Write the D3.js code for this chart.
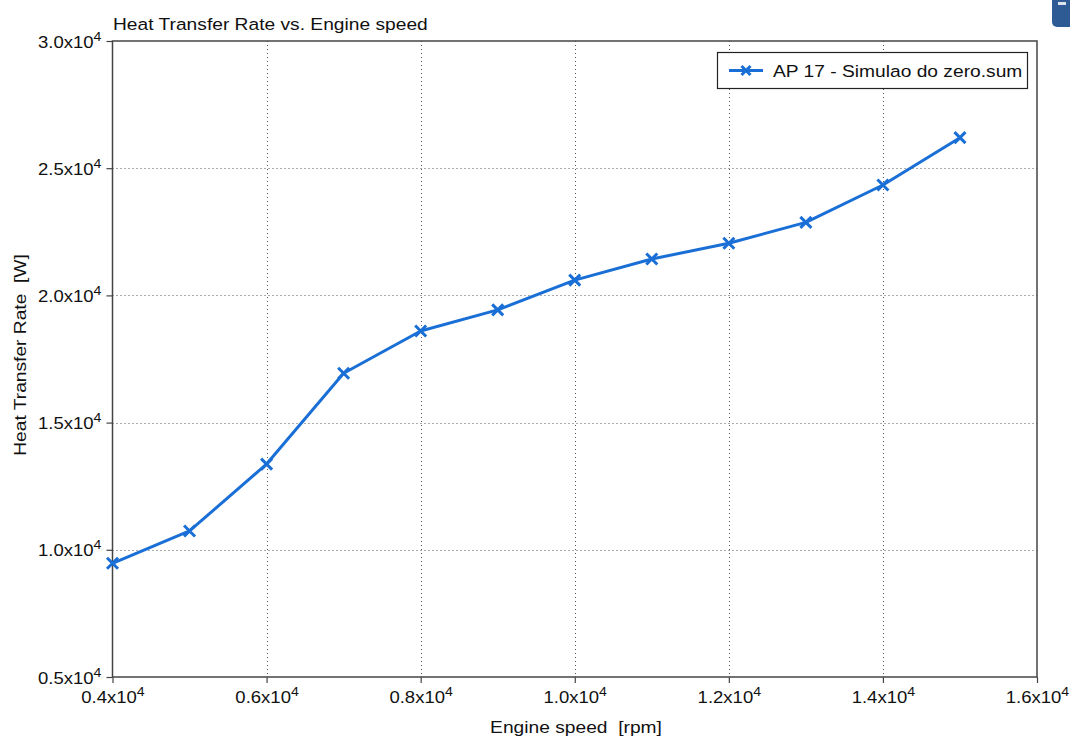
<!DOCTYPE html>
<html>
<head>
<meta charset="utf-8">
<script src="https://cdn.jsdelivr.net/npm/d3@7"></script>
<style>
  html, body { margin: 0; padding: 0; background: #fff; }
  svg { display: block; font-family: "Liberation Sans", Arial, Helvetica, sans-serif; }
</style>
</head>
<body>
<svg id="chart" width="1070" height="738"></svg>
<script>
// Engine speed [rpm] and heat transfer rate [W]
const engineSpeed = [4000, 5000, 6000, 7000, 8000, 9000, 10000, 11000, 12000, 13000, 14000, 15000];
const heatTransfer = [9470, 10740, 13370, 16940, 18600, 19430, 20600, 21430, 22050, 22870, 24340, 26200];
const seriesName = "AP 17 - Simulao do zero.sum";
const xTicks = [4000, 6000, 8000, 10000, 12000, 14000, 16000];
const yTicks = [5000, 10000, 15000, 20000, 25000, 30000];

const svg = d3.select("#chart");
const margin = { left: 112.5, right: 1037, top: 41, bottom: 677 };
const lineColor = "#1a6fd6";
const fontSize = 17;
const wide = 1.13;     // horizontal stretch of the label face
const tickWide = 1.09;

const x = d3.scaleLinear().domain([4000, 16000]).range([margin.left, margin.right]);
const y = d3.scaleLinear().domain([5000, 30000]).range([margin.bottom, margin.top]);

// label in the form "m.mx10^4"
function sciLabel(sel, v) {
  const m = (v / 1e4).toFixed(1);
  sel.text(null);
  sel.append("tspan").text(m + "x10");
  sel.append("tspan").attr("font-size", 13).attr("dy", -7).text("4");
}

// text placed at (px, py), optionally rotated, stretched along its run
function label(parent, px, py, str, anchor, rot) {
  return parent.append("text")
    .attr("transform", `translate(${px},${py}) rotate(${rot || 0}) scale(${wide},1)`)
    .attr("text-anchor", anchor || "start")
    .attr("font-size", fontSize).attr("fill", "#111")
    .attr("xml:space", "preserve")
    .text(str);
}

// dotted grid
const grid = svg.append("g").attr("stroke", "#555").attr("stroke-width", 1).attr("stroke-dasharray", "1,3");
grid.selectAll("line.vx").data(xTicks.slice(1, -1)).join("line")
  .attr("x1", d => Math.round(x(d)) + 0.5).attr("x2", d => Math.round(x(d)) + 0.5)
  .attr("y1", margin.top).attr("y2", margin.bottom);
grid.selectAll("line.hy").data(yTicks.slice(1, -1)).join("line")
  .attr("y1", d => Math.round(y(d)) + 0.5).attr("y2", d => Math.round(y(d)) + 0.5)
  .attr("x1", margin.left).attr("x2", margin.right);

// frame
svg.append("rect")
  .attr("x", margin.left).attr("y", margin.top)
  .attr("width", margin.right - margin.left).attr("height", margin.bottom - margin.top)
  .attr("fill", "none").attr("stroke", "#444").attr("stroke-width", 1.5);

// x axis
const xAxis = svg.append("g").attr("transform", `translate(0,${margin.bottom})`)
  .call(d3.axisBottom(x).tickValues(xTicks).tickSize(6).tickFormat(""));
xAxis.select(".domain").remove();
xAxis.selectAll(".tick line").attr("stroke", "#444").attr("stroke-width", 1.2);
xAxis.selectAll(".tick").append("text")
  .attr("fill", "#111").attr("font-size", fontSize).attr("text-anchor", "middle")
  .attr("transform", `translate(0,26) scale(${tickWide},1)`)
  .each(function (d) { sciLabel(d3.select(this), d); });

// y axis
const yAxis = svg.append("g").attr("transform", `translate(${margin.left},0)`)
  .call(d3.axisLeft(y).tickValues(yTicks).tickSize(6).tickFormat(""));
yAxis.select(".domain").remove();
yAxis.selectAll(".tick line").attr("stroke", "#444").attr("stroke-width", 1.2);
yAxis.selectAll(".tick").append("text")
  .attr("fill", "#111").attr("font-size", fontSize).attr("text-anchor", "end")
  .attr("transform", `translate(-11,6) scale(${tickWide},1)`)
  .each(function (d) { sciLabel(d3.select(this), d); });

// titles
label(svg, 113, 29.5, "Heat Transfer Rate vs. Engine speed", "start");
label(svg, 576, 733, "Engine speed  [rpm]", "middle");
label(svg, 26, 355, "Heat Transfer Rate  [W]", "middle", -90);

// data line
const pts = engineSpeed.map((s, i) => [s, heatTransfer[i]]);
const line = d3.line().x(d => x(d[0])).y(d => y(d[1]));
svg.append("path").datum(pts)
  .attr("d", line).attr("fill", "none")
  .attr("stroke", lineColor).attr("stroke-width", 3).attr("stroke-linejoin", "round");

const cross = (g, r) => {
  g.append("path").attr("d", `M${-r},${-r}L${r},${r}M${-r},${r}L${r},${-r}`)
    .attr("stroke", lineColor).attr("stroke-width", 3).attr("fill", "none");
};
svg.append("g").selectAll("g").data(pts).join("g")
  .attr("transform", d => `translate(${x(d[0])},${y(d[1])})`)
  .each(function () { cross(d3.select(this), 5.5); });

// legend
const lg = svg.append("g");
lg.append("rect").attr("x", 717.5).attr("y", 52.5).attr("width", 310).attr("height", 36)
  .attr("fill", "#fff").attr("stroke", "#222").attr("stroke-width", 1.2);
lg.append("line").attr("x1", 729).attr("x2", 763).attr("y1", 70.5).attr("y2", 70.5)
  .attr("stroke", lineColor).attr("stroke-width", 3);
cross(lg.append("g").attr("transform", "translate(746,70.5)"), 4.5);
label(lg, 773, 76.5, seriesName, "start");

// corner badge
svg.append("rect").attr("x", 1052).attr("y", -10).attr("width", 30).attr("height", 37).attr("rx", 5)
  .attr("fill", "#2e5b93");
svg.append("rect").attr("x", 1058).attr("y", 2).attr("width", 8).attr("height", 3).attr("fill", "#dde4ee");
</script>
</body>
</html>
